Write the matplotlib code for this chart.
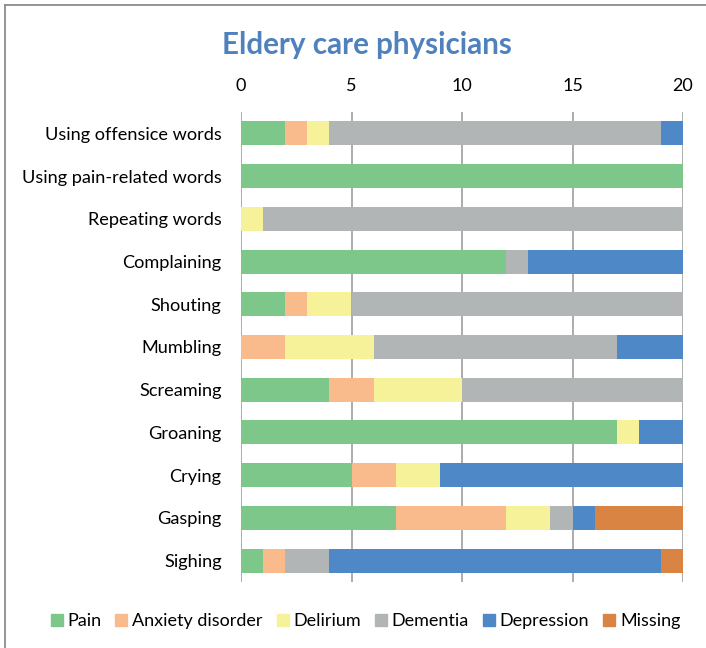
import numpy as np
import matplotlib.pyplot as plt
from matplotlib.lines import Line2D

plt.rcParams['font.family'] = ['Lato', 'DejaVu Sans']

categories = ['Using offensice words', 'Using pain-related words', 'Repeating words',
              'Complaining', 'Shouting', 'Mumbling', 'Screaming', 'Groaning',
              'Crying', 'Gasping', 'Sighing']
series_names = ['Pain', 'Anxiety disorder', 'Delirium', 'Dementia', 'Depression', 'Missing']
pain       = [2, 20, 0, 12, 2, 0, 4, 17, 5, 7, 1]
anxiety    = [1, 0, 0, 0, 1, 2, 2, 0, 2, 5, 1]
delirium   = [1, 0, 1, 0, 2, 4, 4, 1, 2, 2, 0]
dementia   = [15, 0, 19, 1, 15, 11, 10, 0, 0, 1, 2]
depression = [1, 0, 0, 7, 0, 3, 0, 2, 11, 1, 15]
missing    = [0, 0, 0, 0, 0, 0, 0, 0, 0, 4, 1]
colors = ['#7dc78a', '#f9ba8c', '#f6f29a', '#b2b5b5', '#4f88c7', '#d98443']

fig = plt.figure(figsize=(7.06, 6.48), dpi=100)
ax = fig.add_axes([241 / 706, 1 - 582 / 648, 442 / 706, (582 - 112) / 648])

y = np.arange(len(categories))
left = np.zeros(len(categories))
for name, vals, c in zip(series_names, [pain, anxiety, delirium, dementia, depression, missing], colors):
    ax.barh(y, vals, left=left, height=0.56, color=c, label=name, zorder=3)
    left += np.array(vals)

ax.set_xlim(0, 20)
ax.set_ylim(len(categories) - 0.5, -0.5)
ax.set_yticks(y)
ax.set_yticklabels(categories, fontsize=13.1)
ax.set_xticks([0, 5, 10, 15, 20])
ax.xaxis.tick_top()
ax.tick_params(axis='x', labelsize=13, length=0, pad=13)
ax.tick_params(axis='y', length=0, pad=14)
for s in ax.spines.values():
    s.set_visible(False)
ax.grid(axis='x', color='#a6a6a6', linewidth=1.3, zorder=0)

fig.text(367 / 706, 1 - 45 / 648, 'Eldery care physicians', ha='center', va='center',
         fontsize=21.3, fontweight='bold', color='#4f81bd')

handles = [Line2D([], [], marker='s', linestyle='none', markersize=8.5, color=c) for c in colors]
fig.legend(handles, series_names, loc='center', bbox_to_anchor=(364 / 706, 1 - 621 / 648),
           ncol=6, frameon=False, fontsize=13, handletextpad=0.1, columnspacing=0.6,
           handlelength=1.0)

# outer chart border (left and top only visible)
fig.add_artist(Line2D([5 / 706, 5 / 706], [0, 1 - 5 / 648], transform=fig.transFigure,
                      color='#8c8c8c', linewidth=1.3))
fig.add_artist(Line2D([5 / 706, 1], [1 - 5 / 648, 1 - 5 / 648], transform=fig.transFigure,
                      color='#8c8c8c', linewidth=1.3))

fig.savefig('out.png', dpi=100)
